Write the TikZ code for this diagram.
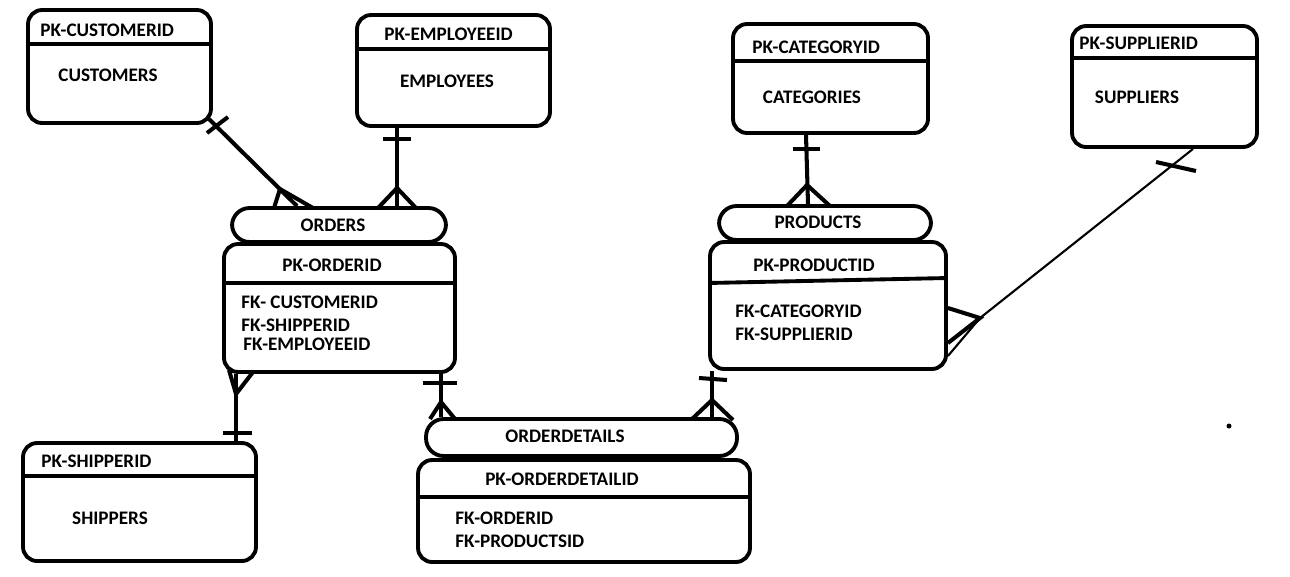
\documentclass[tikz,border=0pt]{standalone}
\usepackage{fontspec}
\setmainfont{Carlito}
\usetikzlibrary{calc}

\tikzset{
  table/.style={draw, line width=2.2pt, rounded corners=8pt, inner sep=0pt},
  tag/.style={draw, line width=2.2pt, rounded corners=10pt, inner sep=0pt},
  txt/.style={font=\bfseries\fontsize{10.9}{12}\selectfont, inner sep=0pt},
  link/.style={line width=2.3pt},
  thinlink/.style={line width=1.2pt}
}

\begin{document}
\begin{tikzpicture}[x=0.02cm,y=-0.02cm]
  \useasboundingbox (0,0) rectangle (1290,576);

  % tables
  \node[table, minimum width=3.66cm, minimum height=2.26cm] (cust) at (119.5,66.5) {};
  \node[table, minimum width=3.86cm, minimum height=2.22cm] (emp) at (453.5,70.5) {};
  \node[table, minimum width=3.9cm, minimum height=2.18cm] (cat) at (830.5,78.5) {};
  \node[table, minimum width=3.7cm, minimum height=2.42cm] (sup) at (1164.5,86.5) {};
  \node[table, minimum width=4.62cm, minimum height=2.56cm] (ord) at (339.5,308) {};
  \node[table, minimum width=4.72cm, minimum height=2.54cm] (prod) at (828,305.5) {};
  \node[table, minimum width=6.64cm, minimum height=2.04cm] (od) at (584,511) {};
  \node[table, minimum width=4.66cm, minimum height=2.36cm] (ship) at (139.5,502) {};

  % name tags on top
  \node[tag, minimum width=4.28cm, minimum height=0.68cm] (ordtag) at (339,225) {};
  \node[tag, minimum width=4.24cm, minimum height=0.68cm] (prodtag) at (825,223) {};
  \node[tag, minimum width=6.22cm, minimum height=0.74cm] (odtag) at (581.5,437.5) {};

  % header lines
  \draw[table] (cust.west |- 0,44) -- (cust.east |- 0,44);
  \draw[table] (emp.west |- 0,49) -- (emp.east |- 0,49);
  \draw[table] (cat.west |- 0,61) -- (cat.east |- 0,61);
  \draw[table] (sup.west |- 0,58) -- (sup.east |- 0,58);
  \draw[table] (ord.west |- 0,283) -- (ord.east |- 0,283);
  \draw[table] (prod.west |- 0,283) -- (prod.east |- 0,278);
  \draw[table] (od.west |- 0,497) -- (od.east |- 0,497);
  \draw[table] (ship.west |- 0,476) -- (ship.east |- 0,476);

  % texts
  \node[txt, anchor=west] (custpk) at (40,30) {PK-CUSTOMERID};
  \node[txt] (custname) at (108,75) {CUSTOMERS};
  \node[txt, anchor=west] (emppk) at (384,34) {PK-EMPLOYEEID};
  \node[txt] (empname) at (447,81) {EMPLOYEES};
  \node[txt, anchor=west] (catpk) at (752,47) {PK-CATEGORYID};
  \node[txt] (catname) at (812,97) {CATEGORIES};
  \node[txt, anchor=west] (suppk) at (1079,43) {PK-SUPPLIERID};
  \node[txt] (supname) at (1137,97) {SUPPLIERS};

  \node[txt] (ordname) at (333,225) {ORDERS};
  \node[txt] (ordpk) at (332,265) {PK-ORDERID};
  \node[txt, anchor=west] (ordfk1) at (241,302) {FK-\ CUSTOMERID};
  \node[txt, anchor=west] (ordfk2) at (241,325) {FK-SHIPPERID};
  \node[txt, anchor=west] (ordfk3) at (243,344) {FK-EMPLOYEEID};

  \node[txt] (prodname) at (818,222) {PRODUCTS};
  \node[txt] (prodpk) at (814,265) {PK-PRODUCTID};
  \node[txt, anchor=west] (prodfk1) at (735,311) {FK-CATEGORYID};
  \node[txt, anchor=west] (prodfk2) at (735,334) {FK-SUPPLIERID};

  \node[txt] (odname) at (565,436) {ORDERDETAILS};
  \node[txt] (odpk) at (562,479) {PK-ORDERDETAILID};
  \node[txt, anchor=west] (odfk1) at (455,518) {FK-ORDERID};
  \node[txt, anchor=west] (odfk2) at (455,541) {FK-PRODUCTSID};

  \node[txt, anchor=west] (shippk) at (41,461) {PK-SHIPPERID};
  \node[txt] (shipname) at (110,518) {SHIPPERS};

  % customers -> orders
  \draw[link] (cust.south east) ++(-4,-6) coordinate (c1) -- (ordtag.north -| 297,0);
  \draw[link] (207,133) -- (228,117);
  \draw[link] (274,208) -- (280,189) -- (313,208);

  % employees -> orders
  \draw[link] (emp.south -| 397,0) -- (ordtag.north -| 397,0);
  \draw[link] (383,139) -- (411,139);
  \draw[link] (378,208) -- (397,188) -- (416,208);

  % orders -> shippers
  \draw[link] (ord.south -| 236,0) -- (ship.north -| 236,0);
  \draw[link] (223,433) -- (252,433);
  \draw[link] (229,370) -- (236,394) -- (253,372);

  % orders -> orderdetails
  \draw[link] (ord.south -| 441,0) -- (odtag.north -| 441,0);
  \draw[link] (423,383) -- (457,383);
  \draw[link] (430,419) -- (441,402) -- (455,419);

  % products -> orderdetails
  \draw[link] (prod.south -| 712,0) -- (odtag.north -| 712,0);
  \draw[link] (699,378) -- (727,380);
  \draw[link] (692,419) -- (712,400) -- (733,420);

  % categories -> products
  \draw[link] (cat.south -| 806,0) -- (prodtag.north -| 808,0);
  \draw[link] (793,149) -- (820,149);
  \draw[link] (787,206) -- (807,185) -- (830,206);

  % suppliers -> products
  \draw[thinlink] (sup.south -| 1193,0) -- (980,318) -- (prod.east |- 0,356);
  \draw[link] (1156,162) -- (1196,171);
  \draw[link] (prod.east |- 0,308) -- (980,318) -- (prod.east |- 0,343);

  % stray dot
  \fill (1229,426) circle (2.5);
\end{tikzpicture}
\end{document}
